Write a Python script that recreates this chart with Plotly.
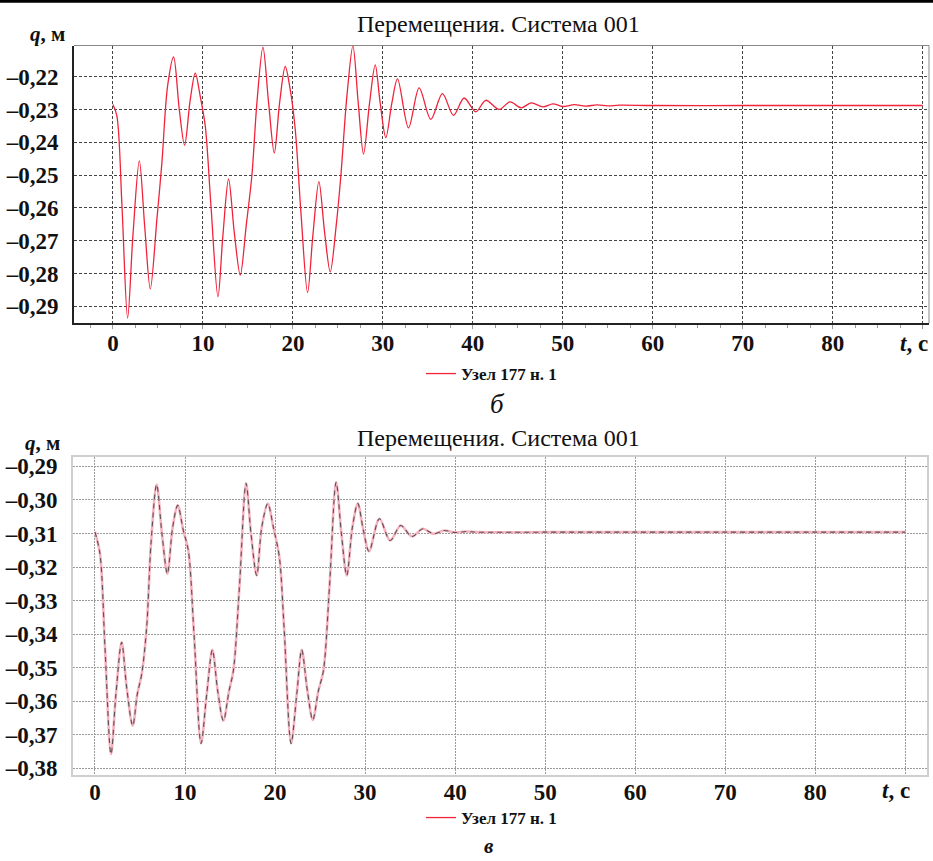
import plotly.graph_objects as go

# ---------------- data ----------------
# chart "б": node 177, displacement q [m] vs time t [s]
t_b = [0.0, 0.44, 1.0, 1.63, 2.22, 2.93, 3.52, 4.15, 4.89, 5.44, 6.07, 6.74, 7.37, 7.96,
       8.59, 9.15, 9.70, 10.26, 10.89, 11.67, 12.22, 12.85, 13.48, 14.15, 14.81, 15.44,
       16.0, 16.67, 17.3, 17.93, 18.52, 19.15, 19.70, 20.26, 20.89, 21.63, 22.22, 22.89,
       23.52, 24.15, 24.81, 25.33, 26.0, 26.67, 27.26, 27.85, 28.52, 29.15, 29.7, 30.33,
       31.0, 31.63, 32.85, 34.03, 35.33, 36.62, 37.85, 39.03, 40.33, 41.44, 42.92, 44.14,
       45.37, 46.48, 47.8, 48.9, 50.0, 51.3, 52.5, 53.8, 55.0, 56.3, 60.0, 70.0, 80.0, 90.0]
q_b = [-0.2285, -0.2320, -0.2593, -0.2936, -0.2684, -0.2457, -0.2654, -0.2847, -0.2633,
       -0.2462, -0.2229, -0.2140, -0.2300, -0.2409, -0.2270, -0.2189, -0.2260, -0.2351,
       -0.2593, -0.2871, -0.2684, -0.2512, -0.2674, -0.2805, -0.2654, -0.2502, -0.2280,
       -0.2110, -0.2280, -0.2433, -0.2280, -0.2169, -0.2239, -0.2361, -0.2613, -0.2858,
       -0.2684, -0.2520, -0.2674, -0.2795, -0.2654, -0.2502, -0.2260, -0.2106, -0.2280,
       -0.2436, -0.2280, -0.2164, -0.2280, -0.2386, -0.2280, -0.2207, -0.2356, -0.2234,
       -0.2330, -0.2252, -0.2318, -0.2265, -0.2307, -0.2272, -0.2300, -0.2277, -0.2295,
       -0.2280, -0.2292, -0.2283, -0.2291, -0.2285, -0.2290, -0.2286, -0.2289, -0.2287,
       -0.2288, -0.2288, -0.2288, -0.2288]

# chart "в"
t_v = [0.0, 0.56, 1.11, 1.78, 2.33, 2.96, 3.52, 4.19, 4.70, 5.19, 5.74, 6.22, 6.85, 7.44,
       8.04, 8.63, 9.19, 9.81, 10.37, 11.0, 11.78, 12.41, 13.04, 13.63, 14.26, 14.89, 15.37,
       16.04, 16.78, 17.33, 17.96, 18.52, 19.19, 19.81, 20.48, 21.0, 21.78, 22.41, 22.96,
       23.59, 24.19, 24.81, 25.37, 26.04, 26.78, 27.37, 27.96, 28.59, 29.19, 29.81, 30.44,
       31.59, 32.78, 33.96, 35.19, 36.41, 37.59, 38.78, 40.0, 41.2, 42.5, 50.0, 60.0, 70.0,
       80.0, 90.0]
q_v = [-0.3095, -0.3161, -0.3439, -0.3758, -0.3579, -0.3424, -0.3559, -0.3673, -0.3579,
       -0.3519, -0.3380, -0.3131, -0.2954, -0.3101, -0.3220, -0.3081, -0.3016, -0.3091,
       -0.3151, -0.3400, -0.3726, -0.3579, -0.3447, -0.3569, -0.3658, -0.3569, -0.3509,
       -0.3260, -0.2950, -0.3101, -0.3225, -0.3081, -0.3011, -0.3081, -0.3171, -0.3380,
       -0.3726, -0.3579, -0.3447, -0.3569, -0.3656, -0.3569, -0.3509, -0.3260, -0.2947,
       -0.3101, -0.3225, -0.3081, -0.3011, -0.3091, -0.3153, -0.3056, -0.3121, -0.3076,
       -0.3109, -0.3086, -0.3101, -0.3091, -0.3097, -0.3094, -0.3096, -0.3096, -0.3096,
       -0.3096, -0.3096, -0.3096]

series_name = "Узел 177 н. 1"
chart_title = "Перемещения. Система 001"

x_tickvals = [0, 10, 20, 30, 40, 50, 60, 70, 80, 90]
x_ticktext = ["0", "10", "20", "30", "40", "50", "60", "70", "80", ""]
y_tickvals_b = [-0.22, -0.23, -0.24, -0.25, -0.26, -0.27, -0.28, -0.29]
y_ticktext_b = ["–0,22", "–0,23", "–0,24", "–0,25", "–0,26", "–0,27", "–0,28", "–0,29"]
y_tickvals_v = [-0.29, -0.30, -0.31, -0.32, -0.33, -0.34, -0.35, -0.36, -0.37, -0.38]
y_ticktext_v = ["–0,29", "–0,30", "–0,31", "–0,32", "–0,33", "–0,34", "–0,35", "–0,36",
                "–0,37", "–0,38"]

# ---------------- figure ----------------
W, H = 933, 861
FONT = "Liberation Serif"


def px(x):
    return x / W


def py(y):
    return 1 - y / H


tickfont = dict(family=FONT, size=23, color="#111", weight="bold")

fig = go.Figure()

fig.add_trace(go.Scatter(
    x=t_b, y=q_b, mode="lines", name=series_name, legend="legend",
    line=dict(color="#f0233b", width=1.3, shape="spline", smoothing=0.9),
    xaxis="x", yaxis="y", hoverinfo="skip"))

fig.add_trace(go.Scatter(
    x=t_v, y=q_v, mode="lines", showlegend=False,
    line=dict(color="#f5b3c0", width=2.6, shape="spline", smoothing=0.9),
    xaxis="x2", yaxis="y2", hoverinfo="skip"))
fig.add_trace(go.Scatter(
    x=t_v, y=q_v, mode="lines", showlegend=False,
    line=dict(color="#5e5054", width=1.1, shape="spline", smoothing=0.9, dash="5px,4px"),
    xaxis="x2", yaxis="y2", hoverinfo="skip"))
fig.add_trace(go.Scatter(
    x=[None], y=[None], mode="lines", name=series_name, legend="legend2",
    line=dict(color="#f0233b", width=1.3), xaxis="x2", yaxis="y2"))

common = dict(automargin=False, zeroline=False, tickmode="array")
legfont = dict(family=FONT, size=17, color="#111", weight="bold")

fig.update_layout(
    template="none",
    width=W, height=H,
    margin=dict(l=0, r=0, t=0, b=0, autoexpand=False),
    paper_bgcolor="white", plot_bgcolor="white",
    font=dict(family=FONT, color="#111"),
    showlegend=True,
    xaxis=dict(
        domain=[px(74), px(929)], range=[-4.33, 90.7], anchor="y",
        tickvals=x_tickvals, ticktext=x_ticktext,
        showgrid=True, gridcolor="#444", griddash="3px,2px", gridwidth=1,
        showline=True, linecolor="#222", linewidth=2,
        ticks="outside", ticklen=4, tickcolor="#999", tickwidth=1, tickfont=tickfont,
        ticklabelstandoff=-6,
        minor=dict(tick0=0, dtick=2.5, ticks="outside", ticklen=3, tickcolor="#999",
                   showgrid=False),
        **common,
    ),
    yaxis=dict(
        domain=[py(323.3), py(45.5)], range=[-0.2952, -0.2105], anchor="x",
        tickvals=y_tickvals_b, ticktext=y_ticktext_b,
        showgrid=True, gridcolor="#444", griddash="3px,2px", gridwidth=1,
        showline=True, linecolor="#222", linewidth=2,
        ticks="", tickfont=tickfont, ticklabelstandoff=9,
        **common,
    ),
    xaxis2=dict(
        domain=[px(73), px(927)], range=[-2.44, 92.4], anchor="y2",
        tickvals=x_tickvals, ticktext=x_ticktext,
        showgrid=True, gridcolor="#9a9a9a", griddash="2px,1px", gridwidth=1,
        showline=True, mirror=True, linecolor="#cfcfcf", linewidth=2,
        ticks="", tickfont=tickfont, ticklabelstandoff=-5,
        **common,
    ),
    yaxis2=dict(
        domain=[py(775), py(456.7)], range=[-0.382, -0.2871], anchor="x2",
        tickvals=y_tickvals_v, ticktext=y_ticktext_v,
        showgrid=True, gridcolor="#9a9a9a", griddash="2px,1px", gridwidth=1,
        showline=True, mirror=True, linecolor="#cfcfcf", linewidth=2,
        ticks="", tickfont=tickfont, ticklabelstandoff=9,
        **common,
    ),
    legend=dict(x=px(421), y=py(374), xanchor="left", yanchor="middle",
                orientation="h", bgcolor="rgba(0,0,0,0)", borderwidth=0, font=legfont),
    legend2=dict(x=px(421), y=py(818), xanchor="left", yanchor="middle",
                 orientation="h", bgcolor="rgba(0,0,0,0)", borderwidth=0, font=legfont),
)

# frame lines of the upper plot (top / right, grey)
fig.add_shape(type="line", xref="x domain", yref="y domain", x0=0, x1=1, y0=1, y1=1,
              line=dict(color="#888", width=1))
fig.add_shape(type="line", xref="x domain", yref="y domain", x0=1, x1=1, y0=0, y1=1,
              line=dict(color="#888", width=1))
# black rule at the very top of the page
fig.add_shape(type="line", xref="paper", yref="paper", x0=0, x1=1,
              y0=py(1.2), y1=py(1.2), line=dict(color="black", width=3))

ann = []


def text(x, y, s, size, xanchor="center"):
    ann.append(dict(x=px(x), y=py(y), xref="paper", yref="paper", text=s, showarrow=False,
                    xanchor=xanchor, yanchor="middle",
                    font=dict(family=FONT, size=size, color="#111")))


text(498, 24, chart_title, 24)
text(498, 438, chart_title, 24)
text(47, 34, "<b><i>q</i>, м</b>", 21)
text(42, 443, "<b><i>q</i>, м</b>", 21)
text(914, 343, "<b><i>t</i>, с</b>", 23)
text(896, 790, "<b><i>t</i>, с</b>", 23)
text(497, 404, "<i>б</i>", 27)
text(489, 846, "<b><i>в</i></b>", 21)
fig.update_layout(annotations=ann)

fig.write_html("out.html", config={"displayModeBar": False},
               post_script="document.body.style.margin='0px';")
